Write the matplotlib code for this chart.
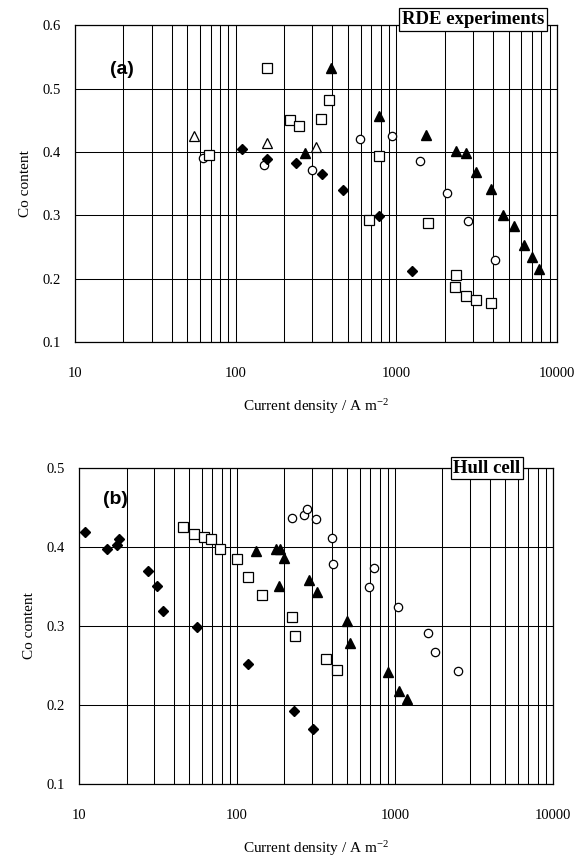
import numpy as np
import matplotlib
matplotlib.use("Agg")
import matplotlib.pyplot as plt
from matplotlib.ticker import LogLocator, NullFormatter

plt.rcParams["font.family"] = ["Liberation Serif", "DejaVu Serif"]
plt.rcParams["mathtext.fontset"] = "custom"
plt.rcParams["mathtext.rm"] = "Liberation Serif"
plt.rcParams["mathtext.it"] = "Liberation Serif:italic"

# ---- (a) RDE experiments ----
a_open_tri_x = [55, 157, 315]
a_open_tri_y = [0.425, 0.414, 0.407]
a_circle_x = [63, 150, 300, 593, 935, 1403, 2075, 2803, 4110]
a_circle_y = [0.391, 0.379, 0.371, 0.420, 0.425, 0.385, 0.335, 0.291, 0.229]
a_square_x = [68, 156, 218, 248, 338, 383, 783, 675, 1566, 2349, 2316, 2711, 3115, 3915]
a_square_y = [0.395, 0.532, 0.450, 0.441, 0.452, 0.482, 0.394, 0.292, 0.287,
              0.206, 0.187, 0.173, 0.166, 0.162]
a_diamond_x = [110, 158, 237, 343, 468, 783, 1245]
a_diamond_y = [0.405, 0.388, 0.383, 0.365, 0.340, 0.299, 0.212]
a_tri_x = [272, 390, 780, 1542, 2339, 2711, 3115, 3915, 4627, 5418, 6223, 6950, 7710]
a_tri_y = [0.398, 0.532, 0.457, 0.426, 0.402, 0.399, 0.368, 0.342, 0.300,
           0.283, 0.253, 0.234, 0.215]

# ---- (b) Hull cell ----
b_diamond_x = [10.9, 15.0, 17.5, 17.9, 27.5, 31, 33.9, 55.6, 117, 230, 301]
b_diamond_y = [0.419, 0.398, 0.403, 0.410, 0.370, 0.351, 0.319, 0.299, 0.252, 0.192, 0.170]
b_square_x = [45.7, 53.7, 62.1, 68.4, 78, 99.5, 118, 145, 222, 233, 364, 431]
b_square_y = [0.425, 0.416, 0.413, 0.410, 0.397, 0.385, 0.362, 0.339, 0.312,
              0.288, 0.258, 0.244]
b_tri_x = [133, 177, 187, 198, 184, 286, 322, 499, 519, 899, 1065, 1186]
b_tri_y = [0.395, 0.397, 0.398, 0.386, 0.351, 0.358, 0.343, 0.307, 0.279,
           0.242, 0.218, 0.208]
b_circle_x = [224, 267, 279, 316, 401, 407, 736, 684, 1040, 1610, 1791, 2517]
b_circle_y = [0.437, 0.441, 0.448, 0.436, 0.411, 0.378, 0.374, 0.350, 0.324,
              0.291, 0.267, 0.243]

x_ticks = [10, 100, 1000, 10000]
x_labels = ["10", "100", "1000", "10000"]


def style_axes(ax, ylim, yticks):
    ax.set_xscale("log")
    ax.set_xlim(10, 10000)
    ax.set_ylim(*ylim)
    ax.set_xticks(x_ticks)
    ax.set_xticklabels(x_labels)
    ax.xaxis.set_minor_locator(LogLocator(base=10, subs=np.arange(2, 10)))
    ax.xaxis.set_minor_formatter(NullFormatter())
    ax.set_yticks(yticks)
    ax.set_yticklabels([f"{t:.1f}" for t in yticks])
    ax.grid(True, which="both", axis="x", color="black", lw=0.75)
    ax.grid(True, which="major", axis="y", color="black", lw=0.75)
    ax.tick_params(axis="both", which="both", length=0, labelsize=10.5)
    ax.tick_params(axis="x", pad=18)
    ax.tick_params(axis="y", pad=10)
    for s in ax.spines.values():
        s.set_linewidth(0.9)
    ax.set_axisbelow(True)
    ax.set_xlabel("Current density / A m$^{\\mathregular{-2}}$", fontsize=11, labelpad=12)
    ax.set_ylabel("Co content", fontsize=11, labelpad=8)


fig = plt.figure(figsize=(5.85, 8.61), dpi=100)
ax1 = fig.add_axes([0.128, 0.6028, 0.824, 0.368])
ax2 = fig.add_axes([0.135, 0.0894, 0.810, 0.367])

ms = 6.5
ax1.plot(a_open_tri_x, a_open_tri_y, "^", ms=ms, mfc="white", mec="black", mew=0.9, ls="none")
ax1.plot(a_circle_x, a_circle_y, "o", ms=ms - 0.5, mfc="white", mec="black", mew=0.9, ls="none")
ax1.plot(a_square_x, a_square_y, "s", ms=ms, mfc="white", mec="black", mew=0.9, ls="none")
ax1.plot(a_diamond_x, a_diamond_y, "D", ms=ms - 1.5, mfc="black", mec="black", ls="none")
ax1.plot(a_tri_x, a_tri_y, "^", ms=ms + 0.5, mfc="black", mec="black", ls="none")
style_axes(ax1, (0.1, 0.6), [0.1, 0.2, 0.3, 0.4, 0.5, 0.6])
ax1.text(0.098, 0.861, "(a)", transform=ax1.transAxes, ha="center", va="center",
         fontsize=14, fontweight="bold", family="Liberation Sans")
ax1.text(0.826, 1.017, "RDE experiments", transform=ax1.transAxes, ha="center", va="center",
         fontsize=13.5, fontweight="bold", zorder=10,
         bbox=dict(boxstyle="square,pad=0.15", fc="white", ec="black", lw=0.9))

ax2.plot(b_diamond_x, b_diamond_y, "D", ms=ms - 1.5, mfc="black", mec="black", ls="none", clip_on=False)
ax2.plot(b_square_x, b_square_y, "s", ms=ms, mfc="white", mec="black", mew=0.9, ls="none")
ax2.plot(b_tri_x, b_tri_y, "^", ms=ms + 0.5, mfc="black", mec="black", ls="none")
ax2.plot(b_circle_x, b_circle_y, "o", ms=ms - 0.5, mfc="white", mec="black", mew=0.9, ls="none")
style_axes(ax2, (0.1, 0.5), [0.1, 0.2, 0.3, 0.4, 0.5])
ax2.text(0.078, 0.902, "(b)", transform=ax2.transAxes, ha="center", va="center",
         fontsize=14, fontweight="bold", family="Liberation Sans")
ax2.text(0.861, 1.0, "Hull cell", transform=ax2.transAxes, ha="center", va="center",
         fontsize=13.5, fontweight="bold", zorder=10,
         bbox=dict(boxstyle="square,pad=0.15", fc="white", ec="black", lw=0.9))

fig.savefig("out.png", dpi=100)
